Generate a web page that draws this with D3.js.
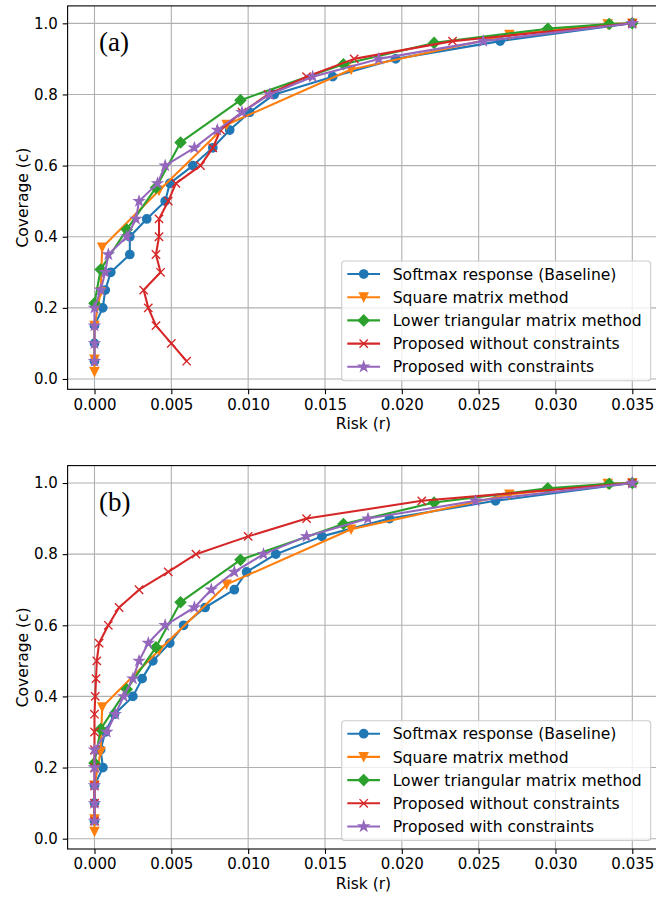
<!DOCTYPE html>
<html>
<head>
<meta charset="utf-8">
<script src="https://cdn.jsdelivr.net/npm/d3@7"></script>
<style>
  body { margin: 0; background: #fff; }
  svg { display: block; font-family: "DejaVu Sans", sans-serif; }
</style>
</head>
<body>
<svg id="chart" width="656" height="897"></svg>
<script>
// ---- data (risk r, coverage c) ----
var seriesNames = ["Softmax response (Baseline)", "Square matrix method", "Lower triangular matrix method",
                   "Proposed without constraints", "Proposed with constraints"];
var seriesColors = ["#1f77b4", "#ff7f0e", "#2ca02c", "#d62728", "#9467bd"];
var seriesMarkers = ["circle", "triangleDown", "diamond", "cross", "star"];

var softmaxA = [[0,0.05],[0,0.10],[0,0.15],[0.00054,0.20],[0.0007,0.25],[0.00106,0.30],[0.0023,0.35],[0.0023,0.40],
  [0.0034,0.45],[0.0046,0.50],[0.0049,0.55],[0.0064,0.60],[0.0077,0.65],[0.0088,0.70],[0.0101,0.75],[0.0117,0.80],
  [0.0155,0.85],[0.0196,0.90],[0.0264,0.95],[0.035,1.0]];
var squareA = [[0,0.02],[0,0.055],[0,0.15],[0.0004,0.245],[0.0005,0.37],[0.0042,0.53],[0.0086,0.715],[0.0167,0.87],
  [0.027,0.968],[0.0334,0.998],[0.035,1.0]];
var lowerA = [[0,0.213],[0.0004,0.308],[0.0021,0.42],[0.004,0.538],[0.0056,0.665],[0.0095,0.784],[0.0162,0.885],
  [0.0221,0.945],[0.0295,0.985],[0.0335,0.998],[0.035,1.0]];
var noConsA = [[0.006,0.05],[0.005,0.10],[0.004,0.15],[0.0035,0.20],[0.0032,0.25],[0.0043,0.30],[0.004,0.35],[0.0042,0.40],
  [0.0042,0.45],[0.0048,0.50],[0.0053,0.55],[0.0069,0.60],[0.0077,0.65],[0.0082,0.70],[0.0096,0.75],[0.0113,0.80],
  [0.0138,0.85],[0.0169,0.90],[0.0233,0.95],[0.035,1.0]];
var withConsA = [[0,0.05],[0,0.10],[0,0.15],[0,0.20],[0.0004,0.25],[0.0007,0.30],[0.0009,0.35],[0.0021,0.40],
  [0.0027,0.45],[0.0029,0.50],[0.0041,0.55],[0.0046,0.60],[0.0065,0.65],[0.0080,0.70],[0.0096,0.75],[0.0114,0.80],
  [0.0142,0.85],[0.0185,0.90],[0.0253,0.95],[0.035,1.0]];

var softmaxB = [[0,0.05],[0,0.10],[0,0.15],[0.00055,0.20],[0.0004,0.25],[0.0007,0.30],[0.0013,0.35],[0.0025,0.40],
  [0.0031,0.45],[0.0038,0.50],[0.0049,0.55],[0.0058,0.60],[0.0072,0.65],[0.0091,0.70],[0.0099,0.75],[0.0118,0.80],
  [0.0148,0.85],[0.0192,0.90],[0.0261,0.95],[0.035,1.0]];
var squareB = squareA;
var lowerB = lowerA;
var noConsB = [[0,0.05],[0,0.10],[0,0.15],[0,0.20],[0,0.25],[0,0.30],[0,0.35],[0.00005,0.40],[0.0001,0.45],
  [0.00015,0.50],[0.0003,0.55],[0.0009,0.60],[0.0016,0.65],[0.0029,0.70],[0.0048,0.75],[0.0066,0.80],[0.010,0.85],
  [0.0138,0.90],[0.0213,0.95],[0.035,1.0]];
var withConsB = [[0,0.05],[0,0.10],[0,0.15],[0,0.20],[0,0.25],[0.0008,0.30],[0.00135,0.35],[0.0019,0.40],
  [0.0025,0.45],[0.0029,0.50],[0.0035,0.55],[0.0046,0.60],[0.0065,0.65],[0.0076,0.70],[0.0091,0.75],[0.011,0.80],
  [0.0138,0.85],[0.0178,0.90],[0.0248,0.95],[0.035,1.0]];

var xTicks = [0, 0.005, 0.010, 0.015, 0.020, 0.025, 0.030, 0.035];
var yTicks = [0.0, 0.2, 0.4, 0.6, 0.8, 1.0];
var panelLabels = ["(a)", "(b)"];

// ---- layout ----
var chart = d3.select("#chart");
var axLeft = 67.6, axRight = 659.2;
var panelTops = [5.9, 465.6];
var axHeight = 383.4;
var xDomain = [-0.00175, 0.03675];
var yDomain = [-0.029, 1.049];
var tickFont = "15px", labelFont = "15.5px", legendFont = "15.6px";
var gridColor = "#b0b0b0";

// marker drawing, sizes in px
function drawMarker(g, type, x, y, color) {
  var s = 4.17, p;
  if (type == "circle") {
    g.append("circle").attr("cx", x).attr("cy", y).attr("r", s)
     .style("fill", color).style("stroke", color).style("stroke-width", 1.39);
    return;
  }
  if (type == "cross") {
    p = "M" + (x-s) + "," + (y-s) + "L" + (x+s) + "," + (y+s) + "M" + (x-s) + "," + (y+s) + "L" + (x+s) + "," + (y-s);
    g.append("path").attr("d", p).style("fill", "none").style("stroke", color).style("stroke-width", 1.39);
    return;
  }
  if (type == "triangleDown") {
    p = "M" + x + "," + (y+s) + "L" + (x-s) + "," + (y-s) + "L" + (x+s) + "," + (y-s) + "Z";
  } else if (type == "diamond") {
    var d = 5.3;
    p = "M" + x + "," + (y-d) + "L" + (x+d) + "," + y + "L" + x + "," + (y+d) + "L" + (x-d) + "," + y + "Z";
  } else if (type == "star") {
    var pts = [];
    for (var k = 0; k < 10; k++) {
      var rr = (k % 2 == 0) ? s * 1.18 : s * 1.18 * 0.381966;
      var a = -Math.PI / 2 + k * Math.PI / 5;
      pts.push((x + rr * Math.cos(a)).toFixed(2) + "," + (y + rr * Math.sin(a)).toFixed(2));
    }
    p = "M" + pts.join("L") + "Z";
  }
  g.append("path").attr("d", p).style("fill", color).style("stroke", color)
   .style("stroke-width", 1.39).style("stroke-linejoin", "miter");
}

function drawPanel(idx, seriesList) {
  var top = panelTops[idx];
  var bottom = top + axHeight;
  var xScale = d3.scaleLinear().domain(xDomain).range([axLeft, axRight]);
  var yScale = d3.scaleLinear().domain(yDomain).range([bottom, top]);
  var g = chart.append("g");

  g.append("clipPath").attr("id", "clip" + idx).append("rect")
   .attr("x", axLeft).attr("y", top).attr("width", axRight - axLeft).attr("height", axHeight);

  // grid
  var grid = g.append("g");
  xTicks.forEach(function(t) {
    grid.append("line").attr("x1", xScale(t)).attr("x2", xScale(t)).attr("y1", top).attr("y2", bottom)
        .style("stroke", gridColor).style("stroke-width", 1.1);
  });
  yTicks.forEach(function(t) {
    grid.append("line").attr("x1", axLeft).attr("x2", axRight).attr("y1", yScale(t)).attr("y2", yScale(t))
        .style("stroke", gridColor).style("stroke-width", 1.1);
  });

  // series
  var plot = g.append("g").attr("clip-path", "url(#clip" + idx + ")");
  var line = d3.line().x(function(d) { return xScale(d[0]); }).y(function(d) { return yScale(d[1]); });
  seriesList.forEach(function(data, i) {
    plot.append("path").attr("d", line(data)).style("fill", "none")
        .style("stroke", seriesColors[i]).style("stroke-width", 2.08).style("stroke-linejoin", "round");
    data.forEach(function(d) { drawMarker(plot, seriesMarkers[i], xScale(d[0]), yScale(d[1]), seriesColors[i]); });
  });

  // axes via d3
  var xAxis = d3.axisBottom(xScale).tickValues(xTicks).tickFormat(d3.format(".3f")).tickSizeOuter(0).tickSize(4.9).tickPadding(4.9);
  var yAxis = d3.axisLeft(yScale).tickValues(yTicks).tickFormat(d3.format(".1f")).tickSizeOuter(0).tickSize(4.9).tickPadding(4.9);
  var gx = g.append("g").attr("transform", "translate(0," + bottom + ")").call(xAxis);
  var gy = g.append("g").attr("transform", "translate(" + axLeft + ",0)").call(yAxis);
  [gx, gy].forEach(function(a) {
    a.select(".domain").remove();
    a.selectAll("line").style("stroke", "#000").style("stroke-width", 1.1);
    a.selectAll("text").style("font-family", "DejaVu Sans").style("font-size", tickFont).style("fill", "#000");
  });

  // spines
  g.append("rect").attr("x", axLeft).attr("y", top).attr("width", axRight - axLeft).attr("height", axHeight)
   .style("fill", "none").style("stroke", "#000").style("stroke-width", 1.1);

  // axis labels
  g.append("text").attr("x", (axLeft + axRight) / 2).attr("y", bottom + 40).text("Risk (r)")
   .style("font-size", labelFont).style("text-anchor", "middle");
  g.append("text").attr("transform", "translate(28," + ((top + bottom) / 2) + ") rotate(-90)").text("Coverage (c)")
   .style("font-size", labelFont).style("text-anchor", "middle");

  // panel label
  g.append("text").attr("x", 99).attr("y", top + 45).text(panelLabels[idx])
   .style("font-family", "Liberation Serif, DejaVu Serif, serif").style("font-size", "27px");

  // legend
  var lgRight = axRight - 8.5, lgBottom = bottom - 8.6;
  var lgW = 309, lgH = 119.7;
  var lgX = lgRight - lgW, lgY = lgBottom - lgH;
  var lg = g.append("g");
  lg.append("rect").attr("x", lgX).attr("y", lgY).attr("width", lgW).attr("height", lgH).attr("rx", 3).attr("ry", 3)
    .style("fill", "#fff").style("fill-opacity", 0.8).style("stroke", "#cccccc").style("stroke-width", 1.1);
  seriesNames.forEach(function(name, i) {
    var cy = lgY + 13 + i * 23.2;
    lg.append("line").attr("x1", lgX + 5.6).attr("x2", lgX + 38.3).attr("y1", cy).attr("y2", cy)
      .style("stroke", seriesColors[i]).style("stroke-width", 2.08);
    drawMarker(lg, seriesMarkers[i], lgX + 22, cy, seriesColors[i]);
    lg.append("text").attr("x", lgX + 51).attr("y", cy).attr("dy", "0.36em").text(name)
      .style("font-size", legendFont).style("fill", "#000");
  });
}

drawPanel(0, [softmaxA, squareA, lowerA, noConsA, withConsA]);
drawPanel(1, [softmaxB, squareB, lowerB, noConsB, withConsB]);
</script>
</body>
</html>
